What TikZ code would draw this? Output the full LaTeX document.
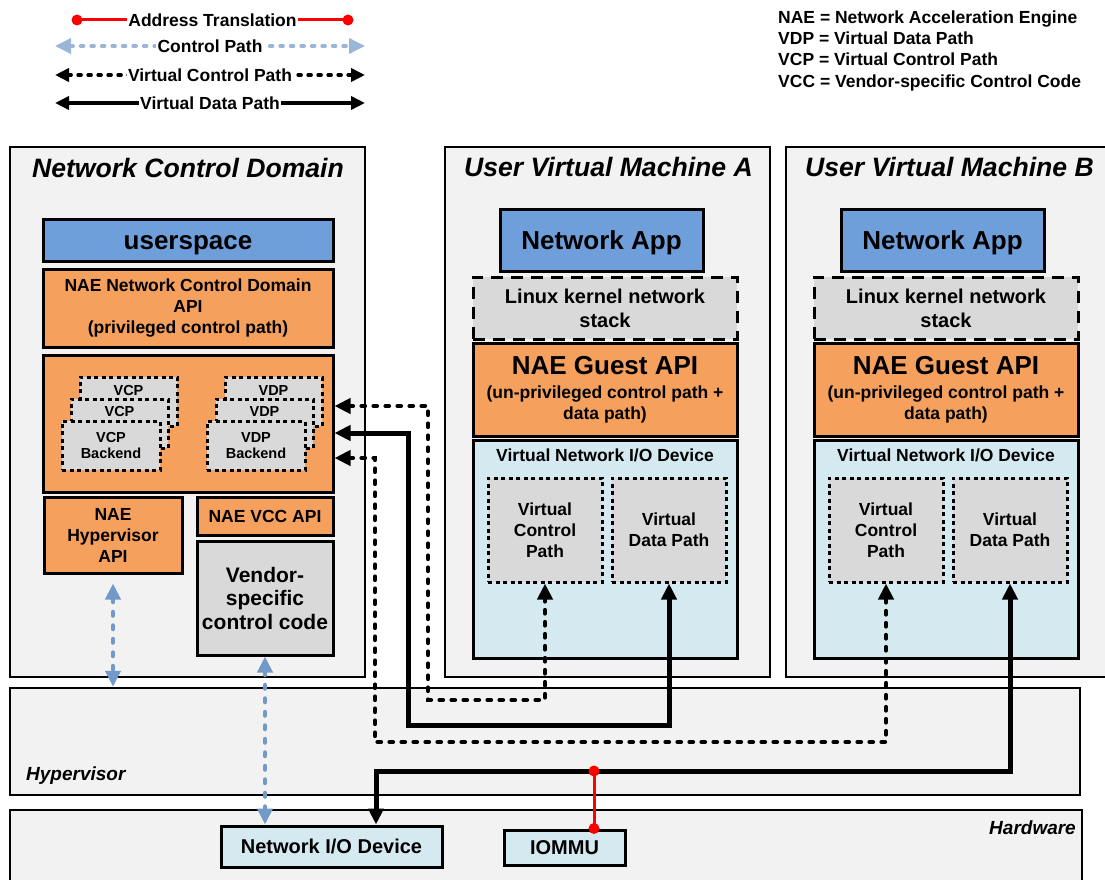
\documentclass[tikz,border=0pt]{standalone}
\usepackage{fontspec}
\setmainfont{Liberation Sans}
\usetikzlibrary{arrows.meta,calc}

\definecolor{panel}{HTML}{F2F2F2}
\definecolor{naeorange}{HTML}{F5A05C}
\definecolor{appblue}{HTML}{6E9FDA}
\definecolor{devcyan}{HTML}{D5EAF0}
\definecolor{stackgray}{HTML}{D9D9D9}
\definecolor{ctlblue}{HTML}{7399C8}
\definecolor{ctllegend}{HTML}{9BB5D6}

\newcommand\fzTitle{\fontsize{26.6}{30}\selectfont\bfseries\itshape}
\newcommand\fzBig{\fontsize{26}{30}\selectfont\bfseries}
\newcommand\fzMid{\fontsize{20}{24}\selectfont\bfseries}
\newcommand\fzVen{\fontsize{21}{23.5}\selectfont\bfseries}
\newcommand\fzSm{\fontsize{17.5}{21}\selectfont\bfseries}
\newcommand\fzHyp{\fontsize{19}{22}\selectfont\bfseries\itshape}
\newcommand\fzTiny{\fontsize{14.5}{16.5}\selectfont\bfseries}

% rectangle node given by its corners (x1,y1) and (x2,y2)
\newcommand\areabox[7]{%
  \node[#6, minimum width={((#4)-(#2))*1pt}, minimum height={((#5)-(#3))*1pt}]
    (#1) at ({((#2)+(#4))/2},{((#3)+(#5))/2}) {#7};}

\tikzset{
  bigtri/.tip={Triangle[length=16pt,width=15pt]},
  legtri/.tip={Triangle[length=14pt,width=13pt]},
  frame/.style={draw, line width=2.5pt, fill=panel, inner sep=0pt},
  orangebox/.style={draw, line width=3pt, fill=naeorange, inner sep=0pt, align=center, font=\fzSm},
  bluebox/.style={draw, line width=3pt, fill=appblue, inner sep=0pt, font=\fzBig,
    text height=18.6pt, text depth=0pt},
  cyanbox/.style={draw, line width=3pt, fill=devcyan, inner sep=0pt, align=center, font=\fzMid},
  graybox/.style={draw, line width=3pt, fill=stackgray, inner sep=0pt, align=center, font=\fzVen},
  dotbox/.style={draw, line width=3pt, dash pattern=on 4pt off 3.5pt, fill=stackgray, inner sep=0pt, align=center, font=\fzSm},
  stackbox/.style={dotbox, font=\fzTiny},
  stacktxt/.style={font=\fzTiny, inner sep=0pt},
  kernelbox/.style={draw, line width=3pt, dash pattern=on 12pt off 8pt, fill=stackgray, inner sep=0pt, align=center, font=\fzMid},
  vctl/.style={line width=4.2pt, line cap=round, dash pattern=on 3.5pt off 8.5pt, {bigtri}-{bigtri}},
  vdata/.style={line width=5pt, {bigtri}-{bigtri}},
  ctlpath/.style={ctlblue, line width=4.5pt, line cap=round, dash pattern=on 3.5pt off 10pt, {bigtri}-{bigtri}},
  xlate/.style={red, line width=3pt},
  legtxt/.style={fill=white, text=black, inner sep=1.5pt, font=\fzSm},
}

\begin{document}
\begin{tikzpicture}[x=1pt,y=-1pt]
\useasboundingbox (0,0) rectangle (1105,880);
\clip (0,0) rectangle (1105,880);
\fill[white] (0,0) rectangle (1105,880);

% ---------- legend ----------
\coordinate (at1) at (77,20);  \coordinate (at2) at (348,20);
\coordinate (cp1) at (55,46);  \coordinate (cp2) at (365,46);
\coordinate (vc1) at (55,75);  \coordinate (vc2) at (365,75);
\coordinate (vd1) at (55,103); \coordinate (vd2) at (365,103);
\draw[xlate] (at1) -- node[legtxt] (legat) {Address Translation} (at2);
\fill[red] (at1) circle (5.5pt) (at2) circle (5.5pt);
\draw[ctllegend, line width=3.5pt, line cap=round, dash pattern=on 3pt off 7.5pt, {bigtri}-{bigtri}]
  (cp1) -- node[legtxt] (legcp) {Control Path} (cp2);
\draw[line width=3.5pt, line cap=round, dash pattern=on 3pt off 7pt, {legtri}-{legtri}]
  (vc1) -- node[legtxt] (legvc) {Virtual Control Path} (vc2);
\draw[line width=3.5pt, {legtri}-{legtri}]
  (vd1) -- node[legtxt] (legvd) {Virtual Data Path} (vd2);

\node[font=\fzSm, anchor=base west, inner sep=0pt] (abbr1) at (778,24) {NAE = Network Acceleration Engine};
\node[font=\fzSm, anchor=base west, inner sep=0pt] (abbr2) at (778,45) {VDP = Virtual Data Path};
\node[font=\fzSm, anchor=base west, inner sep=0pt] (abbr3) at (778,66) {VCP = Virtual Control Path};
\node[font=\fzSm, anchor=base west, inner sep=0pt] (abbr4) at (778,88) {VCC = Vendor-specific Control Code};

% ---------- hypervisor and hardware layers ----------
\areabox{hyp}{10}{688}{1080}{795}{frame}{}
\node[font=\fzHyp, anchor=west, inner sep=0pt] (hypt) at (26,776) {Hypervisor};
\areabox{hw}{10}{810}{1082}{900}{frame}{}
\node[font=\fzHyp, anchor=east, inner sep=0pt] (hwt) at (1076,828) {Hardware};
\areabox{nio}{221}{826}{442}{867}{cyanbox}{Network I/O Device}
\areabox{iommu}{504}{830}{625}{865}{cyanbox}{IOMMU}

% ---------- network control domain ----------
\areabox{ncd}{10}{147}{365}{677}{frame}{}
\node[font=\fzTitle, inner sep=0pt] (ncdt) at (188,168) {Network Control Domain};
\areabox{user}{43}{219}{333}{261}{bluebox}{userspace}
\areabox{ncdapi}{43}{269}{333}{347}{orangebox}{NAE Network Control Domain\\API\\(privileged control path)}
\areabox{backend}{43}{355}{333}{492}{orangebox}{}

% stacked VCP back-ends
\areabox{vcpS3}{80}{377}{177}{426}{stackbox}{}
\node[stacktxt] (vcpS3t) at ($(vcpS3.north)+(0,15)$) {VCP};
\areabox{vcpS2}{71}{399}{168}{448}{stackbox}{}
\node[stacktxt] (vcpS2t) at ($(vcpS2.north)+(0,14)$) {VCP};
\areabox{vcpS1}{62}{421}{160}{470}{stackbox}{VCP\\Backend}
% stacked VDP back-ends
\areabox{vdpS3}{225}{377}{322}{426}{stackbox}{}
\node[stacktxt] (vdpS3t) at ($(vdpS3.north)+(0,15)$) {VDP};
\areabox{vdpS2}{216}{399}{313}{448}{stackbox}{}
\node[stacktxt] (vdpS2t) at ($(vdpS2.north)+(0,14)$) {VDP};
\areabox{vdpS1}{207}{421}{305}{470}{stackbox}{VDP\\Backend}

\areabox{hypapi}{44}{497}{182}{573}{orangebox}{NAE\\Hypervisor\\API}
\areabox{vccapi}{197}{497}{333}{535}{orangebox}{NAE VCC API}
\areabox{vendor}{197}{541}{333}{655}{graybox}{Vendor-\\specific\\control code}

% ---------- user virtual machines ----------
\foreach \v/\dx in {A/0,B/341}{
  \areabox{vm\v}{445+\dx}{147}{770+\dx}{677}{frame}{}
  \node[font=\fzTitle, inner sep=0pt] (vmt\v) at ($(vm\v.north)+(1,21)$) {User Virtual Machine \v};
  \areabox{app\v}{500+\dx}{209}{703+\dx}{271}{bluebox}{Network App}
  \areabox{kern\v}{473+\dx}{277}{737+\dx}{339}{kernelbox}{Linux kernel network\\stack}
  \areabox{guest\v}{473+\dx}{343}{737+\dx}{436}{orangebox}{{\fzBig NAE Guest API}\\[3pt](un-privileged control path +\\data path)}
  \areabox{vnio\v}{473+\dx}{440}{737+\dx}{658}{cyanbox}{}
  \node[font=\fzSm, inner sep=0pt] (vniot\v) at ($(vnio\v.north)+(0,17)$) {Virtual Network I/O Device};
  \areabox{vcp\v}{488+\dx}{478}{602+\dx}{582}{dotbox}{Virtual\\Control\\Path}
  \areabox{vdp\v}{612+\dx}{478}{726+\dx}{582}{dotbox}{Virtual\\Data Path}
}

% ---------- connectors ----------
\coordinate (r1) at (0,406);
\coordinate (r2) at (0,433);
\coordinate (r3) at (0,458);
\coordinate (h1) at (376,771);
\coordinate (t1) at (594,771);

% control paths to the hypervisor and the device
\draw[ctlpath] ([yshift=-9pt]hypapi.south) -- (hypapi.south |- hyp.north);
\draw[ctlpath] (vendor.south) -- (vendor.south |- nio.north);

% virtual control / data paths
\draw[vctl] (backend.east |- r1) -| (428,700) -| (vcpA.south);
\draw[vdata] (backend.east |- r2) -| (408,725) -| (vdpA.south);
\draw[vctl] (backend.east |- r3) -| (375,742) -| (vcpB.south);
\draw[vdata] (vdpB.south) |- (h1) -- (h1 |- nio.north);

% address translation
\draw[xlate] (t1) -- (t1 |- iommu.north);
\fill[red] (t1) circle (5.5pt) (t1 |- iommu.north) circle (5.5pt);
\end{tikzpicture}
\end{document}
